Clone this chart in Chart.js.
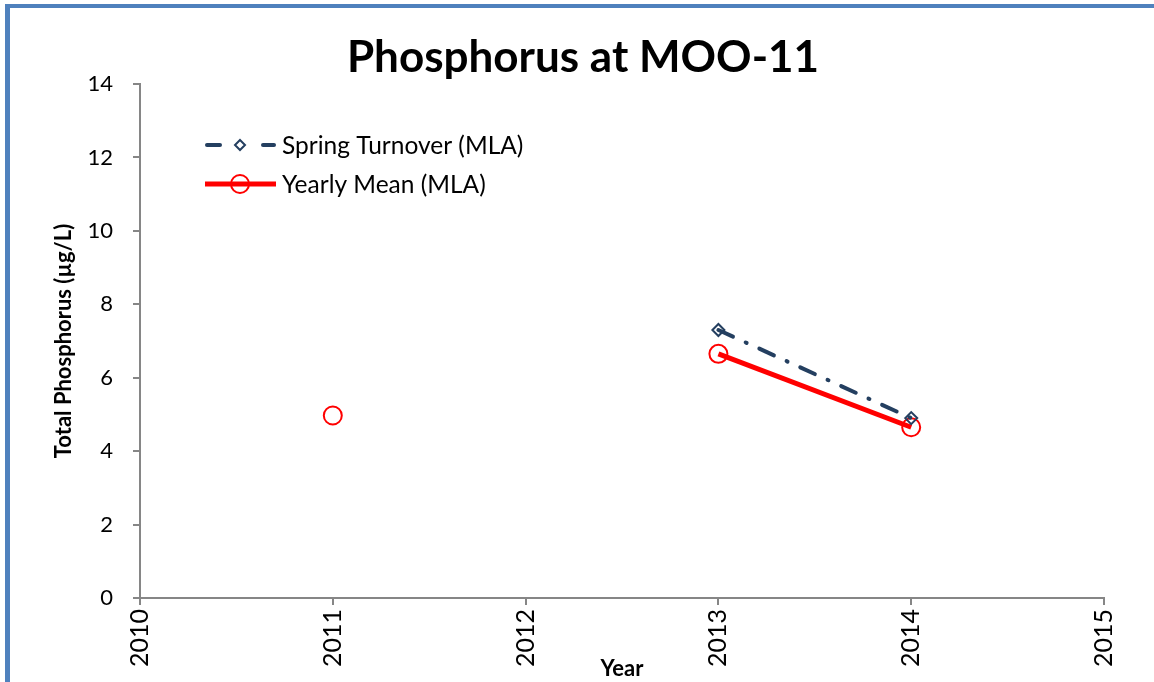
<!DOCTYPE html>
<html>
<head>
<meta charset="utf-8">
<script src="https://cdn.jsdelivr.net/npm/chart.js@4"></script>
<style>
  body { margin: 0; background: #fff; }
  #wrap { position: relative; width: 1154px; height: 682px; }
  #frame { position: absolute; left: 5px; top: 4px; width: 1160px; height: 674px;
           border-left: 5px solid #4f81bd; border-top: 4px solid #4f81bd; border-bottom: 2px solid #4f81bd; }
  canvas { position: absolute; left: 0; top: 0; }
</style>
</head>
<body>
<div id="wrap">
  <canvas id="chart" width="1154" height="682"></canvas>
  <div id="frame"></div>
</div>
<script>
// phosphorus values
var years = [2011, 2012, 2013, 2014];
var springTurnover = [null, null, 7.3, 4.9];
var yearlyMean = [4.97, null, 6.65, 4.65];
var yTicks = [0, 2, 4, 6, 8, 10, 12, 14];
var chartTitle = "Phosphorus at MOO-11";

var toPoints = function(vals){
    var out = [];
    for (var i = 0; i < years.length; i++) {
        out.push({x: years[i], y: vals[i]});
    }
    return out;
};

var navy = "#243f60";
var red = "#ff0000";
var grey = "#868686";

// title + legend drawn by hand (title is off-centre in the original)
var extras = {
    id: "extras",
    afterDraw: function(chart){
        var ctx = chart.ctx;
        var sets = chart.data.datasets;
        ctx.save();
        ctx.fillStyle = "#000";
        ctx.textAlign = "center";
        ctx.textBaseline = "middle";
        ctx.font = "bold 44px Lato";
        ctx.fillText(chartTitle, 583, 58);

        ctx.textAlign = "left";
        ctx.font = "24.5px Lato";

        // spring turnover
        var y = 145;
        ctx.strokeStyle = navy;
        ctx.lineWidth = 4;
        ctx.lineCap = "round";
        ctx.beginPath(); ctx.moveTo(207, y); ctx.lineTo(220, y); ctx.stroke();
        ctx.beginPath(); ctx.moveTo(263, y); ctx.lineTo(274, y); ctx.stroke();
        ctx.lineWidth = 2;
        ctx.beginPath();
        ctx.moveTo(240, y - 5); ctx.lineTo(245, y); ctx.lineTo(240, y + 5); ctx.lineTo(235, y);
        ctx.closePath(); ctx.stroke();
        ctx.fillText(sets[0].label, 282, y + 1);

        // yearly mean
        y = 184;
        ctx.strokeStyle = red;
        ctx.lineWidth = 5;
        ctx.lineCap = "butt";
        ctx.beginPath(); ctx.moveTo(205, y); ctx.lineTo(276, y); ctx.stroke();
        ctx.lineWidth = 2;
        ctx.beginPath(); ctx.arc(240, y, 9, 0, Math.PI * 2); ctx.stroke();
        ctx.fillText(sets[1].label, 282, y + 1);
        ctx.restore();
    }
};

var ctx = document.getElementById("chart").getContext("2d");
var myChart = new Chart(ctx, {
    type: "line",
    data: {
        datasets: [
            {
                label: "Spring Turnover (MLA)",
                data: toPoints(springTurnover),
                borderColor: navy,
                borderWidth: 4,
                borderDash: [16, 14, 1, 14],
                borderCapStyle: "round",
                pointStyle: "rectRot",
                pointRadius: 6,
                pointBorderWidth: 2,
                pointBorderColor: navy,
                pointBackgroundColor: "rgba(255,255,255,0)",
                spanGaps: false
            },
            {
                label: "Yearly Mean (MLA)",
                data: toPoints(yearlyMean),
                borderColor: red,
                borderWidth: 5,
                pointStyle: "circle",
                pointRadius: 9,
                pointBorderWidth: 2,
                pointBorderColor: red,
                pointBackgroundColor: "rgba(255,255,255,0)",
                spanGaps: false
            }
        ]
    },
    options: {
        responsive: false,
        animation: false,
        layout: { padding: { left: 0, right: 50, top: 84, bottom: 0 } },
        plugins: {
            legend: { display: false },
            tooltip: { enabled: false },
            title: { display: false }
        },
        scales: {
            x: {
                type: "linear",
                min: 2010,
                max: 2015,
                afterFit: function(s){ s.height = 84; },
                ticks: {
                    stepSize: 1,
                    maxRotation: 90,
                    minRotation: 90,
                    color: "#000",
                    padding: 4,
                    font: { family: "Lato", size: 25 },
                    callback: function(v){ return String(v); }
                },
                grid: { drawOnChartArea: false, color: grey, lineWidth: 2, tickLength: 7 },
                border: { color: grey, width: 2 },
                title: {
                    display: true,
                    text: "Year",
                    color: "#000",
                    font: { family: "Lato", size: 22, weight: "bold" },
                    padding: { top: -46, bottom: 0 }
                }
            },
            y: {
                min: 0,
                max: 14,
                afterFit: function(s){ s.width = 140; },
                afterBuildTicks: function(s){
                    s.ticks = yTicks.map(function(v){ return {value: v}; });
                },
                ticks: {
                    color: "#000",
                    padding: 20,
                    font: { family: "Lato", size: 22 }
                },
                grid: { drawOnChartArea: false, color: grey, lineWidth: 2, tickLength: 7 },
                border: { color: grey, width: 2 },
                title: {
                    display: true,
                    text: "Total Phosphorus (µg/L)",
                    color: "#000",
                    font: { family: "Lato", size: 22, weight: "bold" },
                    padding: { top: 51, bottom: 8 }
                }
            }
        }
    },
    plugins: [extras]
});
</script>
</body>
</html>
